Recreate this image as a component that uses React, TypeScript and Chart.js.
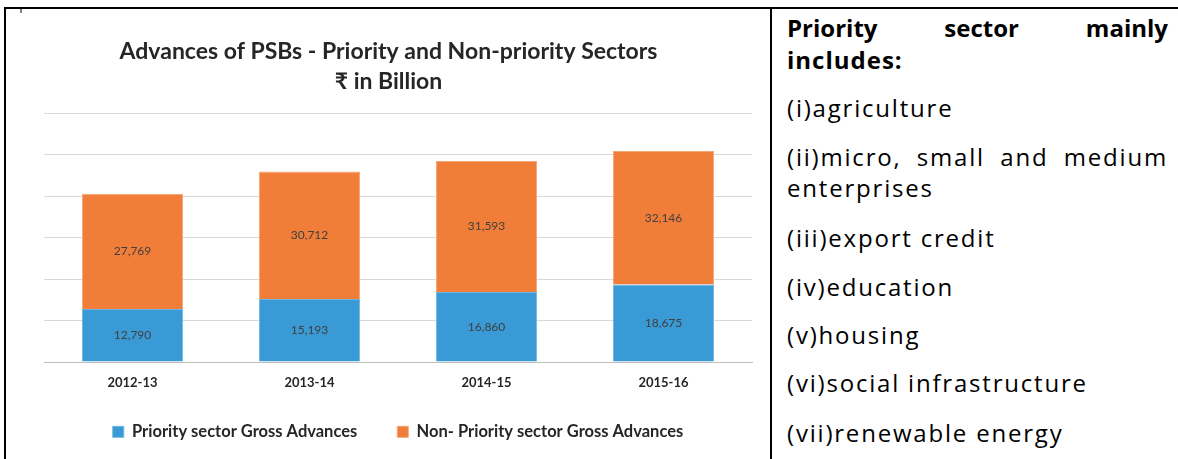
import React, { useEffect, useRef } from "react";
import { Chart, registerables } from "chart.js";

Chart.register(...registerables);

const categories = ["2012-13", "2013-14", "2014-15", "2015-16"];
const priorityValues = [12790, 15193, 16860, 18675];
const nonPriorityValues = [27769, 30712, 31593, 32146];
const seriesNames = ["Priority sector Gross Advances", "Non- Priority sector Gross Advances"];
const titleLines = ["Advances of PSBs - Priority and Non-priority Sectors", "₹ in Billion"];
const yMax = 60000;
const yStep = 10000;

const headerWords = "Priority sector mainly";
const listLines = [
  { text: "includes:", bold: true, center: 60, justify: false },
  { text: "(i)agriculture", bold: false, center: 108, justify: false },
  { text: "(ii)micro, small and medium", bold: false, center: 157, justify: true },
  { text: "enterprises", bold: false, center: 188, justify: false },
  { text: "(iii)export credit", bold: false, center: 238, justify: false },
  { text: "(iv)education", bold: false, center: 287, justify: false },
  { text: "(v)housing", bold: false, center: 335, justify: false },
  { text: "(vi)social infrastructure", bold: false, center: 383, justify: false },
  { text: "(vii)renewable energy", bold: false, center: 433, justify: false },
];

const FONT = "Lato, 'Open Sans', sans-serif";
const TEXT_FONT = "'Open Sans', 'DejaVu Sans', sans-serif";
const DARK = "#262626";

const barLabelPlugin = {
  id: "barLabels",
  afterDatasetsDraw(chart: any) {
    const ctx = chart.ctx;
    ctx.save();
    ctx.font = `12px ${FONT}`;
    ctx.fillStyle = "#404040";
    ctx.textAlign = "center";
    ctx.textBaseline = "middle";
    chart.data.datasets.forEach((ds: any, di: number) => {
      const meta = chart.getDatasetMeta(di);
      meta.data.forEach((el: any, i: number) => {
        const { x, y, base } = el.getProps(["x", "y", "base"], true);
        const v = ds.data[i] as number;
        ctx.fillText(v.toLocaleString("en-US"), x, (y + base) / 2);
      });
    });
    ctx.restore();
  },
};

const titlePlugin = {
  id: "centeredTitle",
  afterDraw(chart: any) {
    const ctx = chart.ctx;
    ctx.save();
    ctx.font = `bold 23px ${FONT}`;
    ctx.fillStyle = DARK;
    ctx.textAlign = "center";
    ctx.textBaseline = "middle";
    const cx = chart.width / 2;
    titleLines.forEach((line, i) => {
      ctx.fillText(line, cx, 43 + i * 30);
    });
    ctx.restore();
  },
};

// nudge the legend row up so it sits closer to the axis labels
const legendShiftPlugin = {
  id: "legendShift",
  afterLayout(chart: any) {
    const lg = chart.legend;
    if (lg) {
      lg.top -= 7;
      lg.bottom -= 7;
    }
  },
};

function BarChart() {
  const ref = useRef<HTMLCanvasElement>(null);
  useEffect(() => {
    if (!ref.current) return;
    const chart = new Chart(ref.current, {
      type: "bar",
      data: {
        labels: categories,
        datasets: [
          {
            label: seriesNames[0],
            data: priorityValues,
            backgroundColor: "#3A9AD5",
            borderColor: "#6DB5E2",
            borderWidth: 1,
          },
          {
            label: seriesNames[1],
            data: nonPriorityValues,
            backgroundColor: "#F07E38",
            borderColor: "#F5A675",
            borderWidth: 1,
          },
        ],
      },
      options: {
        animation: false,
        responsive: false,
        maintainAspectRatio: false,
        datasets: { bar: { categoryPercentage: 0.8, barPercentage: 0.715 } },
        layout: { padding: { left: 37, right: 18, top: 104, bottom: 1.9 } },
        scales: {
          x: {
            stacked: true,
            grid: { display: false, drawTicks: false },
            border: { display: true, color: "#BFBFBF", width: 1 },
            ticks: {
              color: DARK,
              font: { family: FONT, size: 13, weight: "bold" },
              padding: 13,
            },
            afterFit: (scale: any) => {
              scale.height = 28.6;
            },
          },
          y: {
            stacked: true,
            min: 0,
            max: yMax,
            ticks: { display: false, stepSize: yStep },
            grid: { color: "#D9D9D9", drawTicks: false },
            border: { display: false },
          },
        },
        plugins: {
          tooltip: { enabled: false },
          title: { display: false },
          legend: {
            position: "bottom",
            labels: {
              color: DARK,
              font: { family: FONT, size: 16.5, weight: "bold" },
              boxWidth: 11,
              boxHeight: 11,
              padding: 40,
              useBorderRadius: false,
            },
          },
        },
      },
      plugins: [barLabelPlugin, titlePlugin, legendShiftPlugin],
    });
    return () => chart.destroy();
  }, []);
  return <canvas ref={ref} width={763} height={450} style={{ display: "block" }} />;
}

export default function App() {
  useEffect(() => {
    document.body.style.margin = "0";
  }, []);
  const headerParts = headerWords.split(" ");
  return (
    <div style={{ position: "fixed", left: 0, top: 0, width: 1178, height: 459, background: "#fff", overflow: "hidden" }}>
      <div style={{ position: "absolute", left: 4, top: 7, width: 1174, height: 2, background: "#000" }} />
      <div style={{ position: "absolute", left: 4, top: 7, width: 2, height: 452, background: "#000" }} />
      <div style={{ position: "absolute", left: 770, top: 7, width: 2, height: 452, background: "#000" }} />
      <div style={{ position: "absolute", left: 20, top: 9, width: 2, height: 4, background: "#808080" }} />
      <div style={{ position: "absolute", left: 7, top: 9 }}>
        <BarChart />
      </div>
      <div
        style={{
          position: "absolute",
          left: 787,
          top: 12,
          width: 381,
          height: 32,
          lineHeight: "32px",
          fontFamily: TEXT_FONT,
          fontSize: 24,
          fontWeight: "bold",
          color: "#000",
          display: "flex",
          justifyContent: "space-between",
        }}
      >
        {headerParts.map((w) => (
          <span key={w}>{w}</span>
        ))}
      </div>
      {listLines.map((l) => (
        <div
          key={l.text}
          style={{
            position: "absolute",
            left: 787,
            top: l.center - 16,
            width: 381,
            height: 32,
            lineHeight: "32px",
            fontFamily: TEXT_FONT,
            fontSize: 24,
            fontWeight: l.bold ? "bold" : "normal",
            letterSpacing: l.bold ? 1 : 1.8,
            color: "#000",
            whiteSpace: "nowrap",
            textAlign: l.justify ? "justify" : "left",
            textAlignLast: l.justify ? "justify" : "left",
          } as React.CSSProperties}
        >
          {l.text}
        </div>
      ))}
    </div>
  );
}
